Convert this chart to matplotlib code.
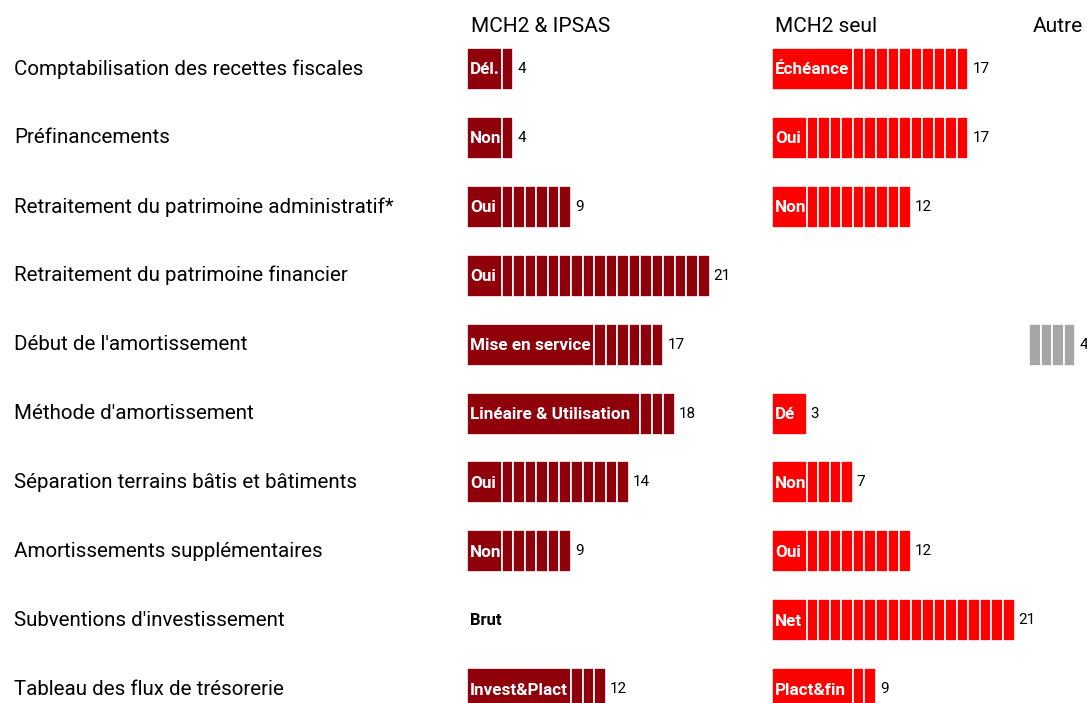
import matplotlib
matplotlib.use("Agg")
import matplotlib.pyplot as plt

rows = ["Comptabilisation des recettes fiscales", "Préfinancements",
        "Retraitement du patrimoine administratif*", "Retraitement du patrimoine financier",
        "Début de l'amortissement", "Méthode d'amortissement",
        "Séparation terrains bâtis et bâtiments", "Amortissements supplémentaires",
        "Subventions d'investissement", "Tableau des flux de trésorerie"]

groups = ["MCH2 & IPSAS", "MCH2 seul", "Autre"]

ipsas_counts = [4, 4, 9, 21, 17, 18, 14, 9, 0, 12]
ipsas_labels = ["Dél.", "Non", "Oui", "Oui", "Mise en service", "Linéaire & Utilisation",
                "Oui", "Non", "Brut", "Invest&Plact"]
ipsas_merged = [3, 3, 3, 3, 11, 15, 3, 3, 0, 9]

seul_counts = [17, 17, 12, 0, 0, 3, 7, 12, 21, 9]
seul_labels = ["Échéance", "Oui", "Non", "", "", "Dé", "Non", "Oui", "Net", "Plact&fin"]
seul_merged = [7, 3, 3, 0, 0, 3, 3, 3, 3, 7]

autre_counts = [0, 0, 0, 0, 4, 0, 0, 0, 0, 0]
autre_labels = [""] * 10
autre_merged = [0] * 10

colors = ["#8f000b", "#ff0000", "#a6a6a6"]

plt.rcParams['font.family'] = ['Roboto', 'DejaVu Sans']

W, H = 1087, 703
fig = plt.figure(figsize=(W / 100, H / 100), dpi=100)
ax = fig.add_axes([0, 0, 1, 1])
ax.set_xlim(0, W)
ax.set_ylim(H, 0)
ax.axis('off')

unit = 11.55
starts = [467, 772, 1029]
row_y0, row_step = 69, 68.9
bar_h = 42

ax.text(471, 27, groups[0], fontsize=15, va='center', ha='left')
ax.text(775, 27, groups[1], fontsize=15, va='center', ha='left')
ax.text(1083, 27, groups[2], fontsize=15, va='center', ha='right')

for i, r in enumerate(rows):
    ax.text(14, row_y0 + i * row_step, r, fontsize=14.8, va='center', ha='left')

data = [(ipsas_counts, ipsas_labels, ipsas_merged),
        (seul_counts, seul_labels, seul_merged),
        (autre_counts, autre_labels, autre_merged)]

for (counts, labels, merged), x0, col in zip(data, starts, colors):
    for i, (n, lab, m) in enumerate(zip(counts, labels, merged)):
        y = row_y0 + i * row_step
        if n == 0:
            if lab:
                ax.text(x0 + 3, y, lab, fontsize=12, fontweight='bold', color='black',
                        va='center', ha='left')
            continue
        lefts, widths = [], []
        if m > 0:
            lefts.append(x0)
            widths.append(m * unit)
        for k in range(m, n):
            lefts.append(x0 + k * unit)
            widths.append(unit)
        ax.barh([y] * len(lefts), widths, left=lefts, height=bar_h, color=col,
                edgecolor='white', linewidth=1.2, align='center')
        if lab:
            ax.text(x0 + 3, y + 1, lab, fontsize=12.3, fontweight='bold', color='white',
                    va='center', ha='left')
        ax.text(x0 + n * unit + 4, y, str(n), fontsize=11, color='black',
                va='center', ha='left')

fig.savefig("out.png", dpi=100)
